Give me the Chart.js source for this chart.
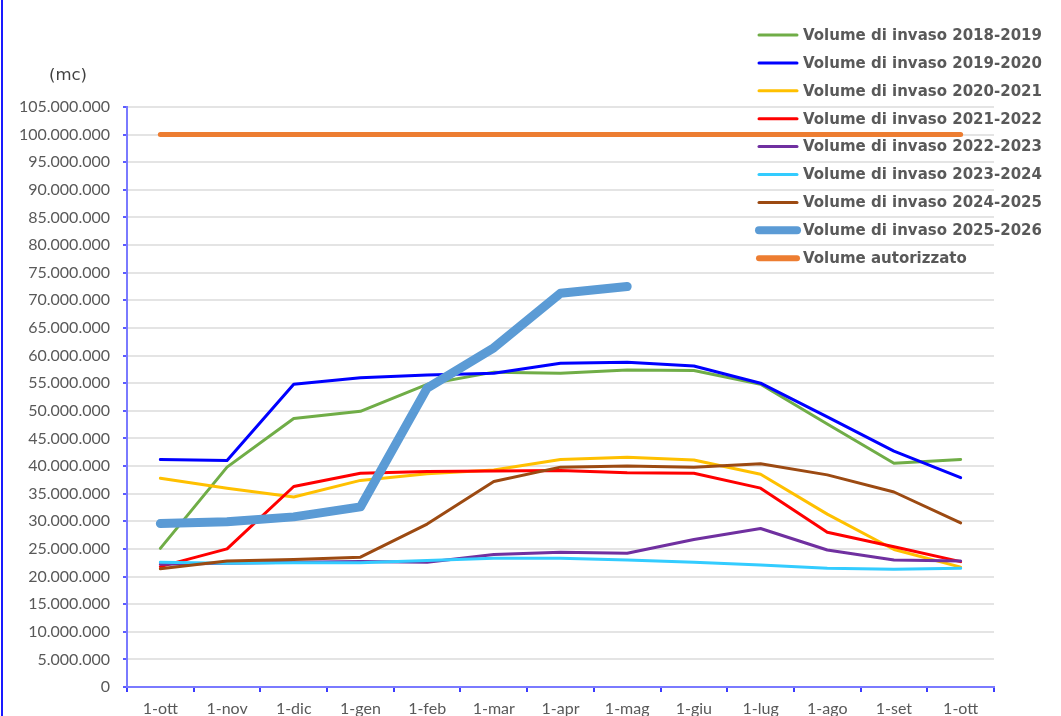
<!DOCTYPE html>
<html lang="it">
<head>
<meta charset="utf-8">
<title>Volume di invaso</title>
<script src="https://cdn.jsdelivr.net/npm/chart.js@4.4.1/dist/chart.umd.min.js"></script>
<style>
    html, body { margin: 0; padding: 0; background: #fff; overflow: hidden; }
    #wrap { position: relative; width: 1061px; height: 716px; }
    #wrap canvas { position: absolute; left: 0; top: 0; }
    #frame { position: absolute; left: 1px; top: 0; width: 2px; height: 716px; background: #1a1aff; }
</style>
</head>
<body>
<div id="wrap">
    <canvas id="invaso-chart" width="1061" height="716"></canvas>
    <div id="frame"></div>
</div>
<script>
// Months on the x axis (hydrological year, october to october)
const months = ['1-ott', '1-nov', '1-dic', '1-gen', '1-feb', '1-mar', '1-apr',
                '1-mag', '1-giu', '1-lug', '1-ago', '1-set', '1-ott'];

// Stored volume per season (m3)
const vol2018 = [25100000, 39800000, 48600000, 49900000, 54800000, 57000000, 56800000,
                 57400000, 57300000, 54800000, 47600000, 40500000, 41200000];
const vol2019 = [41200000, 41000000, 54800000, 56000000, 56500000, 56800000, 58600000,
                 58800000, 58100000, 55000000, 48900000, 42700000, 37900000];
const vol2020 = [37800000, 36000000, 34400000, 37400000, 38600000, 39300000, 41200000,
                 41600000, 41100000, 38500000, 31300000, 24900000, 21700000];
const vol2021 = [21800000, 25000000, 36300000, 38700000, 39000000, 39100000, 39200000,
                 38800000, 38700000, 36000000, 28000000, 25400000, 22700000];
const vol2022 = [22200000, 22400000, 22600000, 22700000, 22600000, 24000000, 24400000,
                 24200000, 26700000, 28700000, 24800000, 23000000, 22800000];
const vol2023 = [22600000, 22400000, 22500000, 22500000, 22900000, 23300000, 23300000,
                 23000000, 22600000, 22100000, 21500000, 21300000, 21500000];
const vol2024 = [21400000, 22800000, 23100000, 23500000, 29500000, 37200000, 39800000,
                 40000000, 39800000, 40400000, 38400000, 35300000, 29700000];
const vol2025 = [29600000, 29900000, 30800000, 32600000, 54100000, 61400000, 71300000,
                 72500000, null, null, null, null, null];
const volAutorizzato = [100000000, 100000000, 100000000, 100000000, 100000000, 100000000, 100000000,
                        100000000, 100000000, 100000000, 100000000, 100000000, 100000000];

const seriesLabels = ['Volume di invaso 2018-2019', 'Volume di invaso 2019-2020',
                      'Volume di invaso 2020-2021', 'Volume di invaso 2021-2022',
                      'Volume di invaso 2022-2023', 'Volume di invaso 2023-2024',
                      'Volume di invaso 2024-2025', 'Volume di invaso 2025-2026',
                      'Volume autorizzato'];
const seriesValues = [vol2018, vol2019, vol2020, vol2021, vol2022, vol2023, vol2024, vol2025, volAutorizzato];

// Styles, kept apart from the data
const seriesColors = ['#70AD47', '#0000FF', '#FFC000', '#FF0000', '#7030A0',
                      '#33CCFF', '#9C4A12', '#5B9BD5', '#ED7D31'];
const seriesWidths = [3, 3, 3, 3, 3, 3, 3, 9, 5];
const legendWidths = [3, 3, 3, 3, 3, 3, 3, 8, 6];

document.addEventListener('DOMContentLoaded', function() {
    createChart();
});

/**
 * Formats a number with dots as thousand separators
 * @param {number} value
 * @returns {string}
 */
function formatDots(value) {
    return String(value).replace(/\B(?=(\d{3})+(?!\d))/g, '.');
}

/**
 * Draws the unit label and the legend on top of the plot
 */
const overlayPlugin = {
    id: 'overlay',
    afterDraw(chart) {
        const ctx = chart.ctx;
        ctx.save();
        ctx.font = '16.5px "DejaVu Sans"';
        ctx.fillStyle = '#404040';
        ctx.textAlign = 'center';
        ctx.textBaseline = 'middle';
        ctx.fillText('(mc)', 68, 76);

        ctx.font = 'bold 15px "DejaVu Sans"';
        ctx.textAlign = 'left';
        ctx.lineCap = 'round';
        chart.data.datasets.forEach((ds, i) => {
            const y = 35 + i * 27.9;
            ctx.strokeStyle = ds.borderColor;
            ctx.lineWidth = legendWidths[i];
            ctx.beginPath();
            ctx.moveTo(759, y);
            ctx.lineTo(797, y);
            ctx.stroke();
            ctx.fillStyle = '#595959';
            ctx.fillText(ds.label, 803, y + 1);
        });
        ctx.restore();
    }
};

/**
 * Creates the line chart
 */
function createChart() {
    const ctx = document.getElementById('invaso-chart').getContext('2d');

    const datasets = seriesValues.map((values, i) => ({
        label: seriesLabels[i],
        data: values,
        borderColor: seriesColors[i],
        backgroundColor: seriesColors[i],
        borderWidth: seriesWidths[i],
        borderCapStyle: 'round',
        borderJoinStyle: 'round',
        pointRadius: 0,
        tension: 0,
        fill: false,
        spanGaps: false,
        order: seriesValues.length - i
    }));

    new Chart(ctx, {
        type: 'line',
        data: {
            labels: months,
            datasets: datasets
        },
        options: {
            responsive: false,
            animation: false,
            devicePixelRatio: 1,
            layout: {
                padding: { left: 0, right: 67, top: 107, bottom: 0 }
            },
            plugins: {
                legend: { display: false },
                tooltip: { enabled: false }
            },
            scales: {
                x: {
                    offset: true,
                    afterFit: function(scale) { scale.height = 29; },
                    grid: {
                        offset: true,
                        drawOnChartArea: false,
                        tickLength: 5,
                        tickColor: '#3b3bff',
                        lineWidth: 2
                    },
                    border: { color: '#7a7aff', width: 2 },
                    ticks: {
                        color: '#595959',
                        font: { family: 'Lato', size: 16 },
                        padding: 7,
                        maxRotation: 0,
                        autoSkip: false
                    }
                },
                y: {
                    min: 0,
                    max: 105000000,
                    afterFit: function(scale) { scale.width = 127; },
                    grid: {
                        color: '#e4e4e4',
                        lineWidth: 2,
                        tickLength: 4,
                        tickColor: '#5c5cff'
                    },
                    border: { color: '#7a7aff', width: 2 },
                    ticks: {
                        stepSize: 5000000,
                        color: '#595959',
                        font: { family: 'Lato', size: 16 },
                        padding: 13,
                        callback: function(value) { return formatDots(value); }
                    }
                }
            }
        },
        plugins: [overlayPlugin]
    });
}
</script>
</body>
</html>
